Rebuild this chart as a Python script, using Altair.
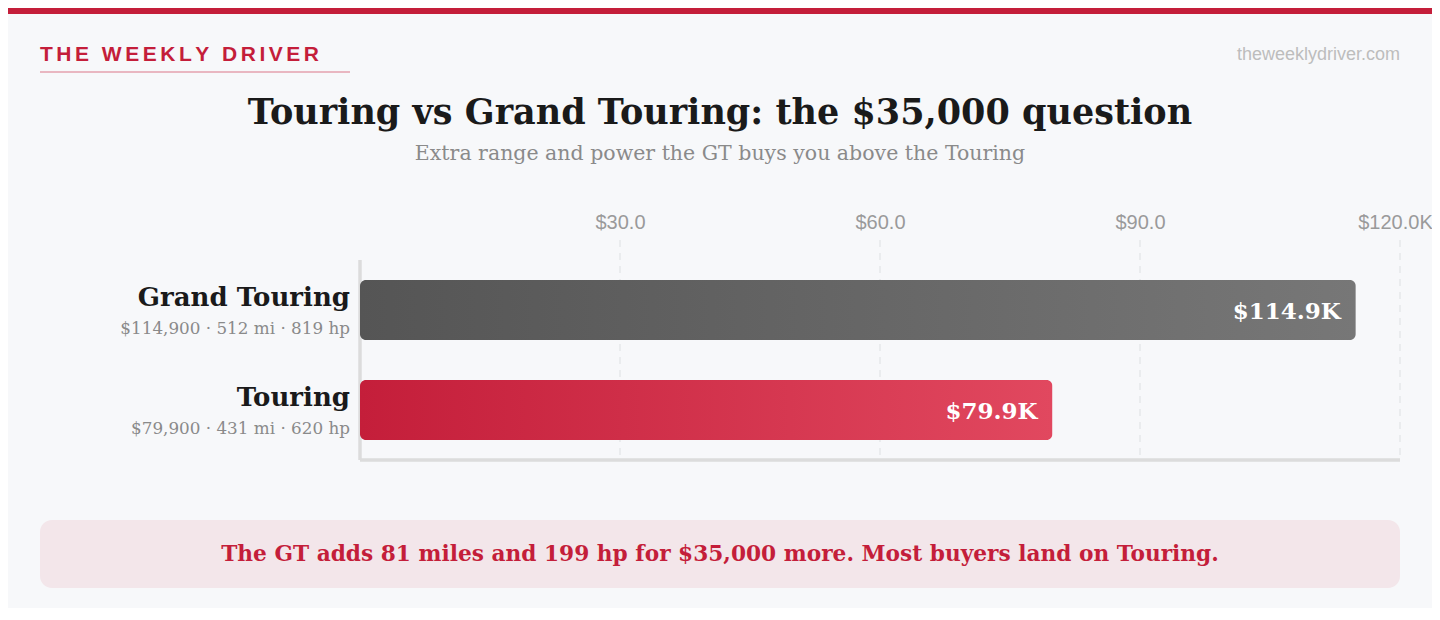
import pandas as pd
import altair as alt

# --- data ---
trims = ["Grand Touring", "Touring"]
prices = [114900, 79900]
range_mi = [512, 431]
power_hp = [819, 620]
x_ticks = [30000, 60000, 90000, 120000]

brand = "THE WEEKLY DRIVER"
site = "theweeklydriver.com"
title = "Touring vs Grand Touring: the $35,000 question"
subtitle = "Extra range and power the GT buys you above the Touring"
takeaway = "The GT adds 81 miles and 199 hp for $35,000 more. Most buyers land on Touring."

RED = "#c41e3a"
SERIF = "DejaVu Serif"
SANS = "Liberation Sans"
W, H = 1040, 200

df = pd.DataFrame({"trim": trims, "price": prices, "mi": range_mi, "hp": power_hp})
df["spec"] = [f"${p:,} · {m} mi · {h} hp" for p, m, h in zip(prices, range_mi, power_hp)]
df["label"] = [f"${p / 1000:.1f}K" for p in prices]

x_scale = alt.Scale(domain=[0, 120000], nice=False)
y_scale = alt.Scale(domain=trims, paddingInner=0.4, paddingOuter=0.2)

base = alt.Chart(df).encode(
    y=alt.Y("trim:N", scale=y_scale, axis=None, sort=trims),
)


def grad(c0, c1):
    return alt.LinearGradient(
        gradient="linear",
        stops=[alt.GradientStop(color=c0, offset=0), alt.GradientStop(color=c1, offset=1)],
        x1=0, x2=1, y1=0, y2=0,
    )


x_enc = alt.X(
    "price:Q",
    scale=x_scale,
    title=None,
    axis=alt.Axis(
        orient="top",
        values=x_ticks,
        labelExpr="datum.value == 120000 ? '$120.0K' : '$' + format(datum.value / 1000, '.1f')",
        labelFont=SANS,
        labelFontSize=20,
        labelColor="#9a9a9a",
        labelPadding=28,
        labelFlush=False,
        # keep the last label inside the page edge
        labelOffset={"condition": {"test": "datum.value == 120000", "value": -5}, "value": 0},
        ticks=False,
        tickSize=0,
        domain=False,
        grid=False,
    ),
)

grid = alt.Chart(pd.DataFrame({"v": x_ticks})).mark_rule(
    color="#e6e7ea", strokeWidth=1.5, strokeDash=[7, 6]
).encode(
    x=alt.X("v:Q", scale=x_scale),
    y=alt.value(-20),
    y2=alt.value(H),
)

frame_left = alt.Chart(df).mark_rule(color="#dcdcdc", strokeWidth=3).encode(
    x=alt.value(0), y=alt.value(0), y2=alt.value(H)
)
frame_bottom = alt.Chart(df).mark_rule(color="#dcdcdc", strokeWidth=3).encode(
    x=alt.value(0), x2=alt.value(W), y=alt.value(H)
)

bar_gt = base.transform_filter(alt.datum.trim == "Grand Touring").mark_bar(
    cornerRadius=6, color=grad("#555555", "#777777")
).encode(x=x_enc)
bar_t = base.transform_filter(alt.datum.trim == "Touring").mark_bar(
    cornerRadius=6, color=grad("#c41e3a", "#e1485f")
).encode(x=alt.X("price:Q", scale=x_scale))

values = base.mark_text(
    align="right", baseline="middle", dx=-15, dy=2,
    font=SERIF, fontSize=23, fontWeight="bold", color="white",
).encode(x=alt.X("price:Q", scale=x_scale), text="label:N")

names = base.mark_text(
    align="right", baseline="alphabetic", dy=-4,
    font=SERIF, fontSize=26, fontWeight="bold", color="#1a1a1a",
).encode(x=alt.value(-10), text="trim:N")

specs = base.mark_text(
    align="right", baseline="alphabetic", dy=24,
    font=SERIF, fontSize=16.8, color="#8a8a8a",
).encode(x=alt.value(-10), text="spec:N")

one = pd.DataFrame({"k": [0]})

top_bar = alt.Chart(one).mark_rect(color=RED).encode(
    x=alt.value(-352), x2=alt.value(W + 32), y=alt.value(-252), y2=alt.value(-246)
)
brand_txt = alt.Chart(one).mark_text(
    align="left", baseline="alphabetic", font=SANS, fontSize=21, fontWeight="bold", color=RED
).encode(
    x=alt.value(-320), y=alt.value(-199),
    text=alt.value("\u200a\u200a".join(brand)),
)
brand_rule = alt.Chart(one).mark_rule(color="#e9b7c1", strokeWidth=2).encode(
    x=alt.value(-320), x2=alt.value(-10), y=alt.value(-188)
)
site_txt = alt.Chart(one).mark_text(
    align="right", baseline="alphabetic", font=SANS, fontSize=18, color="#bdbdbd"
).encode(x=alt.value(W), y=alt.value(-200), text=alt.value(site))
title_txt = alt.Chart(one).mark_text(
    align="center", baseline="alphabetic", font=SERIF, fontSize=35, fontWeight="bold", color="#1a1a1a"
).encode(x=alt.value(360), y=alt.value(-136), text=alt.value(title))
subtitle_txt = alt.Chart(one).mark_text(
    align="center", baseline="alphabetic", font=SERIF, fontSize=20.5, color="#8a8a8a"
).encode(x=alt.value(360), y=alt.value(-100), text=alt.value(subtitle))

note_box = alt.Chart(one).mark_rect(color="#f3e6ea", cornerRadius=12).encode(
    x=alt.value(-320), x2=alt.value(W), y=alt.value(260), y2=alt.value(328)
)
note_txt = alt.Chart(one).mark_text(
    align="center", baseline="alphabetic", font=SERIF, fontSize=21.7, fontWeight="bold", color=RED
).encode(x=alt.value(360), y=alt.value(301), text=alt.value(takeaway))

chart = alt.layer(
    top_bar, brand_txt, brand_rule, site_txt, title_txt, subtitle_txt,
    grid, frame_left, frame_bottom,
    bar_gt, bar_t, values, names, specs,
    note_box, note_txt,
).properties(
    width=W,
    height=H,
    autosize=alt.AutoSizeParams(type="none"),
    padding={"left": 352, "top": 252, "right": 32, "bottom": 148},
).configure(
    background="#f7f8fa",
).configure_view(stroke=None)

chart.save("out.html", embed_options={"renderer": "svg", "actions": False})
